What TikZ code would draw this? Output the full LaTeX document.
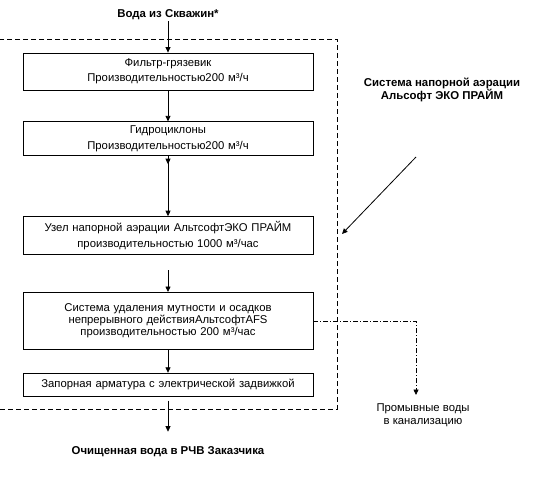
\documentclass[tikz,border=0pt]{standalone}
\usepackage{fontspec}
\setmainfont{Liberation Sans}
\usetikzlibrary{arrows.meta,positioning,calc}

\begin{document}
\begin{tikzpicture}[x=1pt,y=-1pt,
  stagebox/.style={rectangle,draw=black,line width=0.8pt,text width=286pt,minimum width=290pt,
                   align=center,inner sep=0pt,font=\fontsize{11.3}{15.5}\selectfont},
  tightbox/.style={stagebox,font=\fontsize{11.3}{11.8}\selectfont},
  endlabel/.style={align=center,inner sep=1pt,font=\fontsize{11.4}{11.5}\selectfont\bfseries},
  sidelabel/.style={align=center,inner sep=1pt,font=\fontsize{11.3}{13}\selectfont},
  arr/.style={-{Triangle[length=5.5pt,width=5pt]},line width=0.8pt},
  washarr/.style={arr,dash pattern=on 5pt off 2pt on 1pt off 2pt},
  framedash/.style={line width=0.8pt,dash pattern=on 5pt off 3pt}
]
\useasboundingbox (0,0) rectangle (537,481);

% dashed frame of the aeration system (left edge falls outside the page)
\draw[framedash] (-6,39) rectangle (337,409);

\node[endlabel] (src) at (168,15) {Вода из Скважин*};
\node[stagebox, minimum height=37pt] (b1) at (168,71.5)
    {Фильтр-грязевик\\Производительностью200 м³/ч};
\node[stagebox, minimum height=34pt, below=31pt of b1] (b2)
    {Гидроциклоны\\Производительностью200 м³/ч};
\node[stagebox, minimum height=38pt, below=60pt of b2] (b3)
    {Узел напорной аэрации АльтсофтЭКО ПРАЙМ\\производительностью 1000 м³/час};
\node[tightbox, minimum height=57pt, below=37pt of b3] (b4)
    {Система удаления мутности и осадков\\непрерывного действияАльтсофтAFS\\производительностью 200 м³/час};
\node[tightbox, minimum height=23pt, below=23pt of b4] (b5)
    {Запорная арматура с электрической задвижкой};
\node[endlabel] (out) at (168,452) {Очищенная вода в РЧВ Заказчика};

\node[endlabel] (aer) at (442,90) {Система напорной аэрации\\Альсофт ЭКО ПРАЙМ};
\node[sidelabel] (wash) at (423,415) {Промывные воды\\в канализацию};

\draw[arr] (src) -- (b1.north);
\draw[arr] (b1.south) -- (b2.north);
\draw[arr] (b2.south) -- ++(0,8);
\draw[arr] (b2.south) -- (b3.north);
\draw[arr,shorten <=15pt] (b3.south) -- (b4.north);
\draw[arr] (b4.south) -- (b5.north);
\draw[arr,shorten <=4pt,shorten >=14pt] (b5.south) -- (out.north);

% inlet of the aeration system into the frame
\coordinate (aerA) at (416,157);
\coordinate (aerB) at (342,234);
\draw[arr] (aerA) -- (aerB);

% washing water to the sewer
\coordinate (washTurn) at (416,0 |- b4.east);
\coordinate (washEnd) at (416,395);
\draw[washarr] (b4.east) -- (washTurn) -- (washEnd);

\end{tikzpicture}
\end{document}
